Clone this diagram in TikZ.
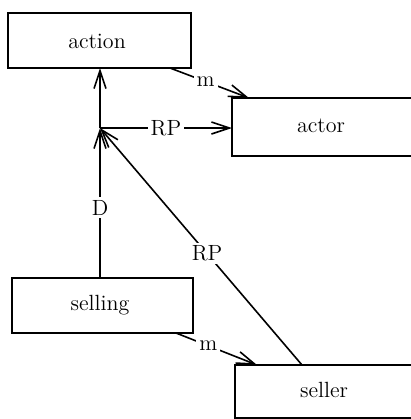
\documentclass[tikz,border=0pt]{standalone}
\usetikzlibrary{arrows.meta}
\begin{document}
\begin{tikzpicture}[x=0.5pt,y=-0.5pt,
  font=\fontsize{11}{13}\selectfont,
  frame/.style={draw, line width=1pt, inner sep=0pt, rectangle},
  word/.style={inner sep=0pt, anchor=center},
  link/.style={line width=0.8pt, -{Straight Barb[length=9pt,width=6pt,line width=0.8pt]}},
  tag/.style={fill=white, inner sep=1.5pt}]
\useasboundingbox (0,0) rectangle (411,419);
\clip (0,0) rectangle (411,419);

% concept frames
\node[frame, minimum width=91.5pt, minimum height=27.5pt] (action) at (99.5,40.5) {};
\node[frame, minimum width=104pt, minimum height=29pt] (actor) at (336,127) {};
\node[frame, minimum width=90.5pt, minimum height=27.5pt] (selling) at (102.5,305.5) {};
\node[frame, minimum width=102.5pt, minimum height=26.5pt] (seller) at (337.5,391.5) {};

% frame names
\node[word] (actiont) at (97,41) {action};
\node[word] (actort) at (321,126) {actor};
\node[word] (sellingt) at (100,305) {selling};
\node[word] (sellert) at (324,390) {seller};

% junction where the roles meet
\coordinate (J) at (100,128);
\coordinate (actionfoot) at (100,68);
\coordinate (actorside) at (232,128);
\coordinate (sellingtop) at (100,278);
\coordinate (sellertop) at (302,365);
\coordinate (m1a) at (170,68);
\coordinate (m1b) at (249,98);
\coordinate (m2a) at (176,333);
\coordinate (m2b) at (257,365);

% connectors
\draw[link] (J) -- (actionfoot);
\draw[link] (J) -- node[tag] (rp1) {RP} (actorside);
\draw[link] (sellingtop) -- node[tag, pos=0.47] (d) {D} (J);
\draw[link] (sellertop) -- node[tag, pos=0.47] (rp2) {RP} (J);
\draw[link] (m1a) -- node[tag, pos=0.45] (m1) {m} (m1b);
\draw[link] (m2a) -- node[tag, pos=0.4] (m2) {m} (m2b);
\end{tikzpicture}
\end{document}
